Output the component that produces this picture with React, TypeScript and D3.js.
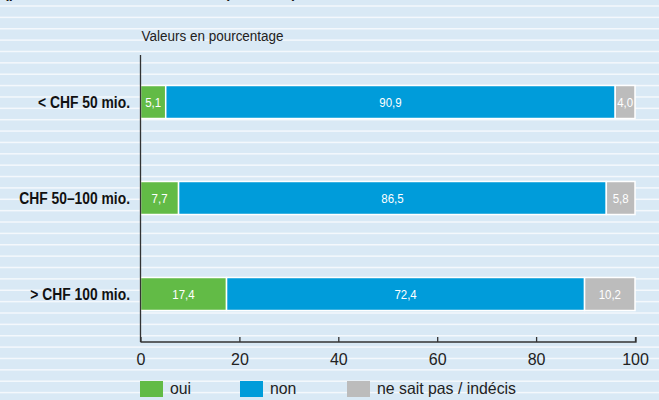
import { useEffect, useRef } from 'react'
import * as d3 from 'd3'

// data
const categories = ['< CHF 50 mio.', 'CHF 50–100 mio.', '> CHF 100 mio.']
const oui = [5.1, 7.7, 17.4]
const non = [90.9, 86.5, 72.4]
const indecis = [4.0, 5.8, 10.2]
const seriesNames = ['oui', 'non', 'ne sait pas / indécis']
const seriesColors = ['#62bb46', '#009cda', '#bcbcbc']
const xTicks = [0, 20, 40, 60, 80, 100]

const W = 659
const H = 400
const FONT = '"Liberation Sans", Arial, sans-serif'

const fmt = (v: number) => v.toFixed(1).replace('.', ',')

// text squeezed horizontally to mimic the condensed face of the original
const addText = (parent: any, x: number, y: number, str: string, o: any = {}) =>
  parent
    .append('text')
    .attr('transform', `translate(${x},${y}) scale(${o.sx ?? 1},1)`)
    .attr('text-anchor', o.anchor ?? 'start')
    .attr('dy', o.dy ?? null)
    .attr('font-family', FONT)
    .attr('font-weight', o.weight ?? 'normal')
    .attr('font-size', o.size ?? 14)
    .attr('fill', o.fill ?? '#222')
    .text(str)

const App = () => {
  const ref = useRef<SVGSVGElement | null>(null)

  useEffect(() => {
    const svg = d3.select(ref.current)
    svg.selectAll('*').remove()

    // striped background
    svg.append('rect').attr('width', W).attr('height', H).attr('fill', '#d9e9f5')
    const stripes = d3.range(6, H, 11.37)
    svg
      .selectAll('.stripe')
      .data(stripes)
      .enter()
      .append('rect')
      .attr('class', 'stripe')
      .attr('x', 0)
      .attr('width', W)
      .attr('y', (d) => d - 0.75)
      .attr('height', 1.5)
      .attr('fill', '#f4f8fc')

    // remains of the cropped title line (only descenders peek in)
    addText(svg, 4, -3, '(par chiffre d’affaires annuel, en pour cent)', {
      weight: 'bold',
      size: 20,
      sx: 0.72,
      fill: '#1a1a1a',
    })

    const x = d3.scaleLinear().domain([0, 100]).range([140.5, 635])
    const y = d3.scaleBand().domain(categories).range([54, 342]).paddingInner(0.656).paddingOuter(0.328)

    const rows = categories.map((c, i) => {
      const vals = [oui[i], non[i], indecis[i]]
      let acc = 0
      return vals.map((v, k) => {
        const seg = { cat: c, k, v, x0: acc, x1: acc + v }
        acc += v
        return seg
      })
    })

    const g = svg.append('g')
    rows.flat().forEach((s) => {
      g.append('rect')
        .attr('x', x(s.x0))
        .attr('y', y(s.cat)!)
        .attr('width', x(s.x1) - x(s.x0))
        .attr('height', y.bandwidth())
        .attr('fill', seriesColors[s.k])
        .attr('stroke', '#ffffff')
        .attr('stroke-width', 1.5)
      addText(g, (x(s.x0) + x(s.x1)) / 2, y(s.cat)! + y.bandwidth() / 2, fmt(s.v), {
        anchor: 'middle',
        dy: '0.36em',
        size: 13.5,
        sx: 0.85,
        fill: '#ffffff',
      })
    })

    // category labels
    categories.forEach((c) => {
      addText(svg, 130, y(c)! + y.bandwidth() / 2, c, {
        anchor: 'end',
        dy: '0.36em',
        weight: 'bold',
        size: 16.5,
        sx: 0.84,
        fill: '#111',
      })
    })

    // axes
    svg
      .append('line')
      .attr('x1', x(0))
      .attr('x2', x(0))
      .attr('y1', 55)
      .attr('y2', 342)
      .attr('stroke', '#333')
      .attr('stroke-width', 1.3)

    const xAxis = d3.axisBottom(x).tickValues(xTicks).tickSize(-5).tickPadding(12)
    const ax = svg.append('g').attr('transform', 'translate(0,342)').call(xAxis)
    ax.select('.domain').attr('stroke', '#333').attr('stroke-width', 1.3).attr('d', `M${x(0)},0H${x(100) + 1}V-5`)
    ax.selectAll('.tick line').attr('stroke', '#333').attr('stroke-width', 1.3)
    ax.selectAll('.tick text')
      .attr('font-family', FONT)
      .attr('font-size', 16)
      .attr('fill', '#222')

    addText(svg, 141.5, 41, 'Valeurs en pourcentage', { size: 15.5, sx: 0.87 })

    // legend
    const legendX = [140, 240, 347]
    seriesNames.forEach((n, i) => {
      svg
        .append('rect')
        .attr('x', legendX[i])
        .attr('y', 381)
        .attr('width', 23)
        .attr('height', 16)
        .attr('fill', seriesColors[i])
      addText(svg, legendX[i] + 30, 394, n, { size: 16.5, sx: 0.96 })
    })
  }, [])

  return (
    <div style={{ position: 'fixed', left: 0, top: 0, width: W, height: H }}>
      <svg ref={ref} width={W} height={H} style={{ display: 'block' }} />
    </div>
  )
}

export default App
